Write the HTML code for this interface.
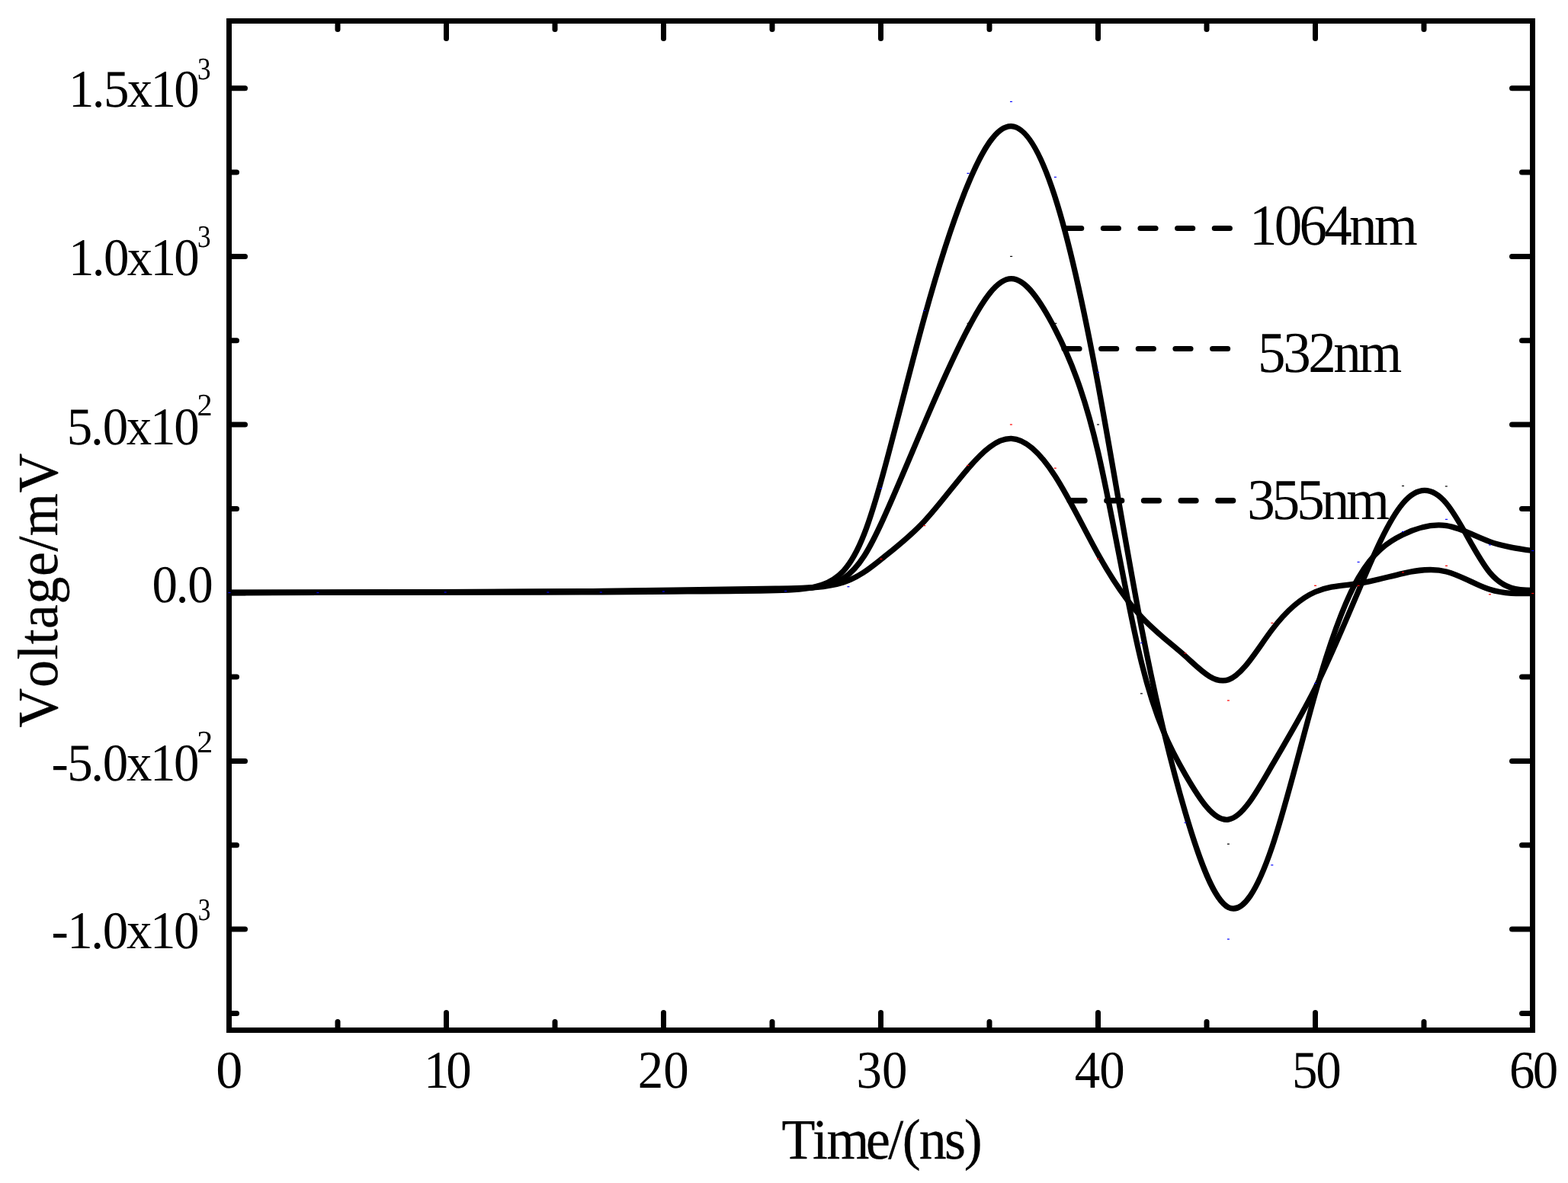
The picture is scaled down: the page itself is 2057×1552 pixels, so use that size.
<!DOCTYPE html>
<html lang="en"><head><meta charset="utf-8"><title>Voltage vs Time</title>
<style>html,body{margin:0;padding:0;background:#fff;overflow:hidden}svg{display:block}</style>
</head><body>
<svg width="2057" height="1552" viewBox="0 0 2057 1552" text-rendering="geometricPrecision">
<rect x="0" y="0" width="2057" height="1552" fill="#fff"/>
<g fill="none" stroke="#000" stroke-width="7.3" stroke-linejoin="round" stroke-linecap="butt"><path d="M301.00 777.50C339.63 777.43 378.27 777.37 425.47 777.20C472.67 777.03 528.43 776.77 578.75 776.55C629.07 776.33 673.93 776.17 707.95 776.00C741.97 775.83 765.13 775.67 790.40 775.42C815.67 775.17 843.03 774.83 883.42 774.17C923.80 773.50 977.20 772.50 1017.62 772.13C1058.03 771.77 1085.47 772.03 1106.32 758.78C1127.17 745.53 1141.43 718.77 1158.05 682.38C1174.67 646.00 1193.63 600.00 1212.68 555.38C1231.73 510.77 1250.87 467.53 1269.85 431.27C1288.83 395.00 1307.67 365.70 1326.73 365.70C1345.80 365.70 1365.10 395.00 1384.10 431.77C1403.10 468.53 1421.80 512.77 1440.63 593.70C1459.47 674.63 1478.43 792.27 1497.52 869.35C1516.60 946.43 1535.80 982.97 1554.80 1015.87C1573.80 1048.77 1592.60 1078.03 1611.57 1075.12C1630.53 1072.20 1649.67 1037.10 1668.68 1004.18C1687.70 971.27 1706.60 940.53 1725.48 902.70C1744.37 864.87 1763.23 819.93 1782.40 774.55C1801.57 729.17 1821.03 683.33 1840.27 660.50C1859.50 637.67 1878.50 637.83 1897.50 660.50C1916.50 683.17 1935.50 728.33 1954.37 751.08C1973.23 773.83 1991.97 774.17 2010.70 774.50"/><path d="M301.00 777.50C339.63 777.43 378.27 777.37 425.47 777.25C472.67 777.13 528.43 776.97 578.75 776.83C629.07 776.70 673.93 776.60 707.95 776.47C741.97 776.33 765.13 776.17 790.40 776.00C815.67 775.83 843.03 775.67 883.42 775.25C923.80 774.83 977.20 774.17 1017.62 773.12C1058.03 772.07 1085.47 770.63 1106.32 763.95C1127.17 757.27 1141.43 745.33 1158.05 732.07C1174.67 718.80 1193.63 704.20 1212.68 683.73C1231.73 663.27 1250.87 636.93 1269.85 614.83C1288.83 592.73 1307.67 574.87 1326.73 575.47C1345.80 576.07 1365.10 595.13 1384.10 624.50C1403.10 653.87 1421.80 693.53 1440.63 727.30C1459.47 761.07 1478.43 788.93 1497.52 809.57C1516.60 830.20 1535.80 843.60 1554.80 860.63C1573.80 877.67 1592.60 898.33 1611.57 891.73C1630.53 885.13 1649.67 851.27 1668.68 826.15C1687.70 801.03 1706.60 784.67 1725.48 776.48C1744.37 768.30 1763.23 768.30 1782.40 765.40C1801.57 762.50 1821.03 756.70 1840.27 752.37C1859.50 748.03 1878.50 745.17 1897.50 749.98C1916.50 754.80 1935.50 767.30 1954.37 773.33C1973.23 779.37 1991.97 778.93 2010.70 778.50"/><path d="M301.00 777.50C339.63 777.50 378.27 777.50 425.47 777.42C472.67 777.33 528.43 777.17 578.75 777.08C629.07 777.00 673.93 777.00 707.95 777.00C741.97 777.00 765.13 777.00 790.40 776.83C815.67 776.67 843.03 776.33 883.42 776.08C923.80 775.83 977.20 775.67 1017.62 774.62C1058.03 773.57 1085.47 771.63 1106.32 749.15C1127.17 726.67 1141.43 683.63 1158.05 623.25C1174.67 562.87 1193.63 485.13 1212.68 416.27C1231.73 347.40 1250.87 287.40 1269.85 241.73C1288.83 196.07 1307.67 164.73 1326.73 165.57C1345.80 166.40 1365.10 199.40 1384.10 258.57C1403.10 317.73 1421.80 403.07 1440.63 504.92C1459.47 606.77 1478.43 725.13 1497.52 823.60C1516.60 922.07 1535.80 1000.63 1554.80 1065.40C1573.80 1130.17 1592.60 1181.13 1611.57 1190.42C1630.53 1199.70 1649.67 1167.30 1668.68 1111.37C1687.70 1055.43 1706.60 975.97 1725.48 909.72C1744.37 843.47 1763.23 790.43 1782.40 757.27C1801.57 724.10 1821.03 710.80 1840.27 701.47C1859.50 692.13 1878.50 686.77 1897.50 689.67C1916.50 692.57 1935.50 703.73 1954.37 710.58C1973.23 717.43 1991.97 719.97 2010.70 722.50"/></g>
<line x1="1398.7" y1="299.5" x2="1613.4" y2="299.5" stroke="#000" stroke-width="7.2" stroke-linecap="round" stroke-dasharray="20.00 28.66"/>
<line x1="1396.0" y1="457.5" x2="1610.6" y2="457.5" stroke="#000" stroke-width="7.2" stroke-linecap="round" stroke-dasharray="20.00 28.66"/>
<line x1="1403.3" y1="656.8" x2="1617.6" y2="656.8" stroke="#000" stroke-width="7.6" stroke-linecap="round" stroke-dasharray="19.60 29.06"/>
<rect x="300.5" y="27.5" width="1710.0" height="1324.0" fill="none" stroke="#000" stroke-width="7"/>
<g stroke="#000" stroke-width="7" stroke-linecap="round"><line x1="443.0" y1="1351.5" x2="443.0" y2="1340.5"/><line x1="443.0" y1="27.5" x2="443.0" y2="38.5"/><line x1="585.5" y1="1351.5" x2="585.5" y2="1328.5"/><line x1="585.5" y1="27.5" x2="585.5" y2="50.5"/><line x1="728.0" y1="1351.5" x2="728.0" y2="1340.5"/><line x1="728.0" y1="27.5" x2="728.0" y2="38.5"/><line x1="870.5" y1="1351.5" x2="870.5" y2="1328.5"/><line x1="870.5" y1="27.5" x2="870.5" y2="50.5"/><line x1="1013.0" y1="1351.5" x2="1013.0" y2="1340.5"/><line x1="1013.0" y1="27.5" x2="1013.0" y2="38.5"/><line x1="1155.5" y1="1351.5" x2="1155.5" y2="1328.5"/><line x1="1155.5" y1="27.5" x2="1155.5" y2="50.5"/><line x1="1298.0" y1="1351.5" x2="1298.0" y2="1340.5"/><line x1="1298.0" y1="27.5" x2="1298.0" y2="38.5"/><line x1="1440.5" y1="1351.5" x2="1440.5" y2="1328.5"/><line x1="1440.5" y1="27.5" x2="1440.5" y2="50.5"/><line x1="1583.0" y1="1351.5" x2="1583.0" y2="1340.5"/><line x1="1583.0" y1="27.5" x2="1583.0" y2="38.5"/><line x1="1725.5" y1="1351.5" x2="1725.5" y2="1328.5"/><line x1="1725.5" y1="27.5" x2="1725.5" y2="50.5"/><line x1="1868.0" y1="1351.5" x2="1868.0" y2="1340.5"/><line x1="1868.0" y1="27.5" x2="1868.0" y2="38.5"/><line x1="300.5" y1="1329.4" x2="310.5" y2="1329.4"/><line x1="2010.5" y1="1329.4" x2="1996.5" y2="1329.4"/><line x1="300.5" y1="1219.1" x2="321.5" y2="1219.1"/><line x1="2010.5" y1="1219.1" x2="1983.5" y2="1219.1"/><line x1="300.5" y1="1108.8" x2="310.5" y2="1108.8"/><line x1="2010.5" y1="1108.8" x2="1996.5" y2="1108.8"/><line x1="300.5" y1="998.4" x2="321.5" y2="998.4"/><line x1="2010.5" y1="998.4" x2="1983.5" y2="998.4"/><line x1="300.5" y1="888.1" x2="310.5" y2="888.1"/><line x1="2010.5" y1="888.1" x2="1996.5" y2="888.1"/><line x1="300.5" y1="777.8" x2="321.5" y2="777.8"/><line x1="2010.5" y1="777.8" x2="1983.5" y2="777.8"/><line x1="300.5" y1="667.4" x2="310.5" y2="667.4"/><line x1="2010.5" y1="667.4" x2="1996.5" y2="667.4"/><line x1="300.5" y1="557.1" x2="321.5" y2="557.1"/><line x1="2010.5" y1="557.1" x2="1983.5" y2="557.1"/><line x1="300.5" y1="446.8" x2="310.5" y2="446.8"/><line x1="2010.5" y1="446.8" x2="1996.5" y2="446.8"/><line x1="300.5" y1="336.4" x2="321.5" y2="336.4"/><line x1="2010.5" y1="336.4" x2="1983.5" y2="336.4"/><line x1="300.5" y1="226.1" x2="310.5" y2="226.1"/><line x1="2010.5" y1="226.1" x2="1996.5" y2="226.1"/><line x1="300.5" y1="115.8" x2="321.5" y2="115.8"/><line x1="2010.5" y1="115.8" x2="1983.5" y2="115.8"/></g>
<g fill="#000"><rect x="1268.5" y="423.7" width="3" height="1.2"/><rect x="1325.1" y="335.8" width="3" height="1.2"/><rect x="1383.3" y="423.7" width="3" height="1.2"/><rect x="1439.0" y="556.4" width="3" height="1.2"/><rect x="1495.9" y="909.3" width="3" height="1.2"/><rect x="1609.9" y="1106.7" width="3" height="1.2"/><rect x="1839.0" y="636.9" width="3" height="1.2"/><rect x="1895.8" y="637.4" width="3" height="1.2"/></g><g fill="#f00"><rect x="1154.4" y="732.8" width="3" height="1.2"/><rect x="1211.2" y="689.0" width="3" height="1.2"/><rect x="1268.3" y="610.0" width="3" height="1.2"/><rect x="1324.9" y="556.4" width="3" height="1.2"/><rect x="1382.8" y="613.6" width="3" height="1.2"/><rect x="1439.0" y="732.6" width="3" height="1.2"/><rect x="1553.4" y="856.4" width="3" height="1.2"/><rect x="1609.9" y="918.4" width="3" height="1.2"/><rect x="1667.4" y="816.8" width="3" height="1.2"/><rect x="1724.0" y="767.7" width="3" height="1.2"/><rect x="1780.6" y="767.7" width="3" height="1.2"/><rect x="1839.0" y="750.3" width="3" height="1.2"/><rect x="1896.0" y="741.7" width="3" height="1.2"/><rect x="1953.0" y="779.2" width="3" height="1.2"/><rect x="2009.2" y="777.9" width="3" height="1.2"/></g><g fill="#00f"><rect x="299.5" y="776.9" width="3" height="1.2"/><rect x="415.4" y="776.9" width="3" height="1.2"/><rect x="582.7" y="776.4" width="3" height="1.2"/><rect x="717.3" y="776.4" width="3" height="1.2"/><rect x="786.8" y="776.4" width="3" height="1.2"/><rect x="868.9" y="775.4" width="3" height="1.2"/><rect x="1029.1" y="774.9" width="3" height="1.2"/><rect x="1111.4" y="769.1" width="3" height="1.2"/><rect x="1154.2" y="640.0" width="3" height="1.2"/><rect x="1211.1" y="406.8" width="3" height="1.2"/><rect x="1268.5" y="226.8" width="3" height="1.2"/><rect x="1325.0" y="132.8" width="3" height="1.2"/><rect x="1382.9" y="231.8" width="3" height="1.2"/><rect x="1439.0" y="487.8" width="3" height="1.2"/><rect x="1495.9" y="842.9" width="3" height="1.2"/><rect x="1553.5" y="1078.6" width="3" height="1.2"/><rect x="1609.9" y="1231.5" width="3" height="1.2"/><rect x="1667.3" y="1134.3" width="3" height="1.2"/><rect x="1724.0" y="895.9" width="3" height="1.2"/><rect x="1780.6" y="736.8" width="3" height="1.2"/><rect x="1839.0" y="696.9" width="3" height="1.2"/><rect x="1896.0" y="680.8" width="3" height="1.2"/><rect x="1953.0" y="714.3" width="3" height="1.2"/><rect x="2009.2" y="721.9" width="3" height="1.2"/></g>
<g font-family='"Liberation Serif", serif' fill="#000"><text transform="translate(89.92 140.00) scale(0.9600 1)" font-size="69.7" x="0.00 32.03 48.05 80.08 112.11 144.14" y="0">1.5x10</text><text transform="translate(259.12 103.60) scale(0.8561 1)" font-size="41" x="0.00" y="0">3</text><text transform="translate(89.92 361.10) scale(0.9600 1)" font-size="69.7" x="0.00 32.03 48.05 80.08 112.11 144.14" y="0">1.0x10</text><text transform="translate(259.12 323.80) scale(0.8561 1)" font-size="41" x="0.00" y="0">3</text><text transform="translate(87.81 582.80) scale(0.9600 1)" font-size="69.7" x="0.00 32.52 48.78 81.30 113.82 146.33" y="0">5.0x10</text><text transform="translate(258.54 545.30) scale(0.9796 1)" font-size="41" x="0.00" y="0">2</text><text transform="translate(67.42 1023.80) scale(0.9600 1)" font-size="69.7" x="0.00 21.58 53.98 70.18 102.57 134.97 167.37" y="0">-5.0x10</text><text transform="translate(258.36 987.40) scale(1.0221 1)" font-size="41" x="0.00" y="0">2</text><text transform="translate(67.42 1243.80) scale(0.9600 1)" font-size="69.7" x="0.00 21.58 53.98 70.18 102.57 134.97 167.37" y="0">-1.0x10</text><text transform="translate(259.81 1207.00) scale(0.8089 1)" font-size="41" x="0.00" y="0">3</text><text transform="translate(199.45 790.30) scale(0.9600 1)" font-size="69.7" x="0.00 32.53 48.79" y="0">0.0</text><text transform="translate(283.13 1427.00) scale(1.0054 1)" font-size="69.7" x="0.00" y="0">0</text><text transform="translate(555.92 1427.00) scale(0.9600 1)" font-size="69.7" x="0.00 30.60" y="0">10</text><text transform="translate(836.86 1427.00) scale(0.9600 1)" font-size="69.7" x="0.00 34.83" y="0">20</text><text transform="translate(1123.40 1427.00) scale(0.9600 1)" font-size="69.7" x="0.00 35.10" y="0">30</text><text transform="translate(1409.79 1427.00) scale(0.9600 1)" font-size="69.7" x="0.00 33.85" y="0">40</text><text transform="translate(1695.01 1427.00) scale(0.9600 1)" font-size="69.7" x="0.00 32.48" y="0">50</text><text transform="translate(1979.92 1427.00) scale(0.9600 1)" font-size="69.7" x="0.00 32.05" y="0">60</text><text transform="translate(1638.99 321.40) scale(0.9600 1)" font-size="76" x="0.00 34.15 68.29 102.44 136.58 170.73" y="0">1064nm</text><text transform="translate(1650.06 487.70) scale(0.9600 1)" font-size="76" x="0.00 34.46 68.92 103.38 137.84" y="0">532nm</text><text transform="translate(1636.31 680.80) scale(0.9600 1)" font-size="76" x="0.00 33.82 67.65 101.47 135.29" y="0">355nm</text></g>
<g font-family='"Liberation Serif", serif' fill="#000" stroke="#000" stroke-width="0.3" stroke-linejoin="round"><text transform="translate(1025.50 1520.10) scale(0.9600 1)" font-size="74.8" x="0.00 42.16 61.34 115.03 145.67 164.85 187.83 222.35 249.21" y="0">Time/(ns)</text><text transform="translate(75.20 954.81) rotate(-90) scale(0.9600 1)" font-size="74.8" x="0.00 54.95 93.00 114.14 135.28 169.05 207.10 240.87 262.02 321.20" y="0">Voltage/mV</text></g>
</svg>
</body></html>
